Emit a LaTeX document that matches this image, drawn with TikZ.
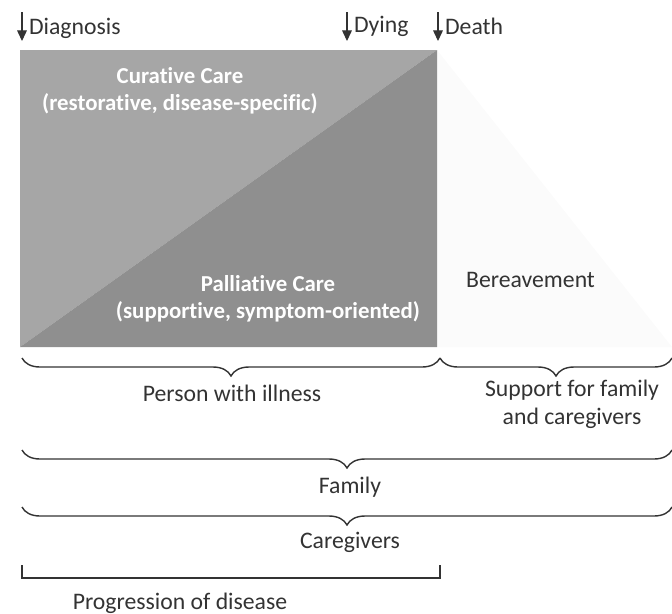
\documentclass[tikz,border=0pt]{standalone}
\usepackage{fontspec}
\setmainfont{Carlito}[Ligatures=NoCommon]
\usepackage{tikz}
\usetikzlibrary{arrows.meta,decorations.pathreplacing}
\definecolor{curativeGray}{HTML}{A6A6A6}
\definecolor{palliativeGray}{HTML}{8F8F8F}
\definecolor{griefGray}{HTML}{FBFBFB}
\definecolor{inkGray}{HTML}{333333}

\begin{document}
\begin{tikzpicture}[x=0.02cm,y=-0.02cm,font=\fontsize{13.5}{16}\selectfont,
  every node/.style={text=inkGray},
  careText/.style={text=white,align=center,font=\fontsize{13}{15.5}\selectfont\bfseries},
  eventArrow/.style={draw=inkGray,line width=0.6pt,-{Triangle[length=6pt,width=5.5pt]}},
  spanBrace/.style={draw=inkGray,line width=0.8pt,decorate,decoration={brace,mirror,amplitude=0.36cm}}]
  \useasboundingbox (0,0) rectangle (672,613);

  % Care rectangle and bereavement wedge
  \coordinate (careTL) at (20,50);
  \coordinate (careTR) at (437,50);
  \coordinate (careBL) at (20,347);
  \coordinate (careBR) at (437,347);
  \fill[griefGray] (careTR) -- (672,347) -- (careBR) -- cycle;
  \fill[curativeGray] (careTL) -- (careTR) -- (careBL) -- cycle;
  \fill[palliativeGray] (careTR) -- (careBR) -- (careBL) -- cycle;

  \node[careText] (curative) at (180,91) {Curative Care\\(restorative, disease-specific)};
  \node[careText] (palliative) at (268,299) {Palliative Care\\(supportive, symptom-oriented)};
  \node[anchor=west] (bereave) at (460,280) {Bereavement};

  % Time markers
  \coordinate (diagTop) at (22,12);
  \coordinate (diagEnd) at (22,41);
  \coordinate (dyingTop) at (347,12);
  \coordinate (dyingEnd) at (347,41);
  \coordinate (deathTop) at (438,12);
  \coordinate (deathEnd) at (438,41);
  \draw[eventArrow] (diagTop) -- (diagEnd);
  \draw[eventArrow] (dyingTop) -- (dyingEnd);
  \draw[eventArrow] (deathTop) -- (deathEnd);
  \node[anchor=west,inner sep=1pt] (diagnosis) at (27,28) {Diagnosis};
  \node[anchor=west,inner sep=1pt] (dying) at (352,26) {Dying};
  \node[anchor=west,inner sep=1pt] (death) at (443,26) {Death};

  % Braces
  \coordinate (personL) at (22,358);
  \coordinate (personR) at (440,358);
  \coordinate (supportR) at (672,358);
  \draw[spanBrace] (personL) -- (personR);
  \draw[spanBrace] (personR) -- (supportR);
  \node (person) at (232,393) {Person with illness};
  \node[align=center] (support) at (572,404) {Support for family\\and caregivers};

  \coordinate (familyL) at (22,450);
  \coordinate (familyR) at (672,450);
  \draw[spanBrace] (familyL) -- (familyR);
  \node (family) at (350,487) {Family};

  \coordinate (giverL) at (22,507);
  \coordinate (giverR) at (672,507);
  \draw[spanBrace] (giverL) -- (giverR);
  \node (givers) at (350,542) {Caregivers};

  % Progression bracket
  \coordinate (progL) at (22,565);
  \coordinate (progR) at (440,565);
  \draw[draw=inkGray,line width=0.8pt] (progL) -- (22,578) -- (440,578) -- (progR);
  \node (progress) at (180,603) {Progression of disease};
\end{tikzpicture}
\end{document}
